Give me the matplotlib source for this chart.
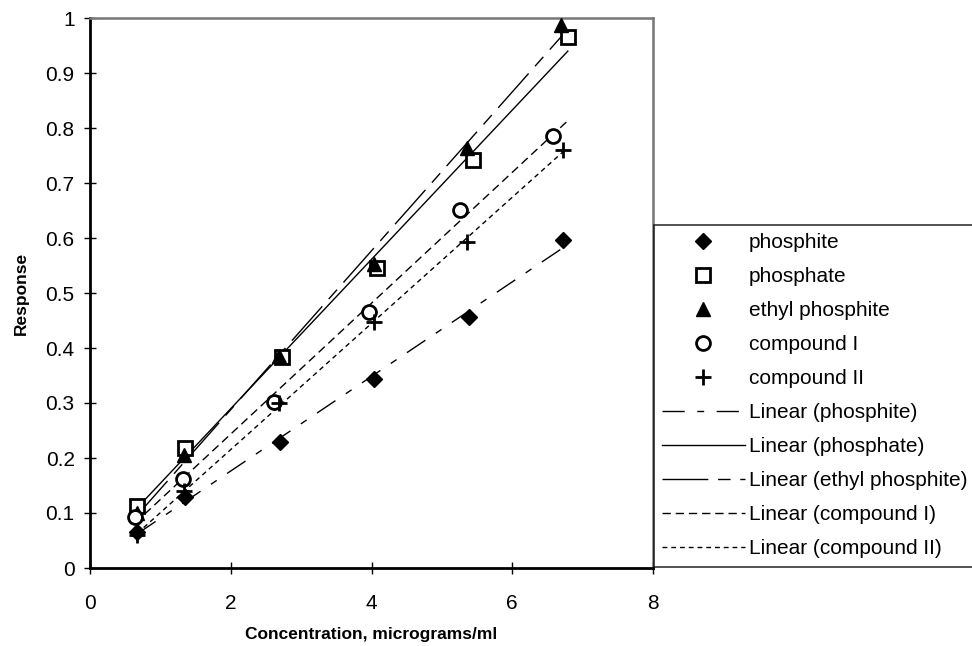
import matplotlib
matplotlib.use("Agg")
import matplotlib.pyplot as plt
import numpy as np

plt.rcParams['font.family'] = ['Liberation Sans', 'DejaVu Sans']

# Data
series_names = ['phosphite', 'phosphate', 'ethyl phosphite', 'compound I', 'compound II']

x_phosphite = [0.67, 1.35, 2.70, 4.03, 5.38, 6.72]
y_phosphite = [0.065, 0.129, 0.229, 0.344, 0.456, 0.596]

x_phosphate = [0.67, 1.35, 2.73, 4.08, 5.44, 6.79]
y_phosphate = [0.113, 0.218, 0.384, 0.545, 0.742, 0.966]

x_ethyl = [0.67, 1.34, 2.68, 4.03, 5.36, 6.69]
y_ethyl = [0.100, 0.205, 0.385, 0.553, 0.764, 0.987]

x_comp1 = [0.64, 1.32, 2.61, 3.97, 5.26, 6.58]
y_comp1 = [0.093, 0.162, 0.302, 0.465, 0.651, 0.785]

x_comp2 = [0.67, 1.34, 2.68, 4.03, 5.35, 6.72]
y_comp2 = [0.060, 0.140, 0.300, 0.447, 0.593, 0.760]

# trend line x range (Excel trendlines)
trend_lo = [0.67, 0.67, 0.67, 0.64, 0.67]
trend_hi = [6.72, 6.79, 6.72, 6.79, 6.78]

xs = [x_phosphite, x_phosphate, x_ethyl, x_comp1, x_comp2]
ys = [y_phosphite, y_phosphate, y_ethyl, y_comp1, y_comp2]

x_ticks = [0, 2, 4, 6, 8]
y_ticks = [0, 0.1, 0.2, 0.3, 0.4, 0.5, 0.6, 0.7, 0.8, 0.9, 1]
y_tick_labels = ['0', '0.1', '0.2', '0.3', '0.4', '0.5', '0.6', '0.7', '0.8', '0.9', '1']

# styles
markers = [dict(marker='D', ms=8, mfc='black', mec='black', mew=1),
           dict(marker='s', ms=10, mfc='white', mec='black', mew=2),
           dict(marker='^', ms=10, mfc='black', mec='black', mew=1),
           dict(marker='o', ms=10, mfc='white', mec='black', mew=2),
           dict(marker='+', ms=12, mfc='black', mec='black', mew=2)]
dashes = [(16, 9, 5, 9),
          None,
          (33, 7, 9, 7),
          (6, 3.5),
          (3.5, 2.8)]

fig = plt.figure(figsize=(9.72, 6.46), dpi=100)
ax = fig.add_axes([90 / 972, 78 / 646, 563 / 972, 550 / 646])

handles = []
for i in range(5):
    h, = ax.plot(xs[i], ys[i], ls='none', label=series_names[i], zorder=3, **markers[i])
    handles.append(h)

for i in range(5):
    k, b = np.polyfit(xs[i], ys[i], 1)
    xx = np.array([trend_lo[i], trend_hi[i]])
    ln, = ax.plot(xx, k * xx + b, color='black', lw=1,
                  label='Linear (' + series_names[i] + ')', zorder=2)
    if dashes[i] is not None:
        ln.set_dashes(dashes[i])
    handles.append(ln)

ax.set_xlim(0, 8)
ax.set_ylim(0, 1)
ax.set_xticks(x_ticks)
ax.set_xticklabels([str(t) for t in x_ticks])
ax.set_yticks(y_ticks)
ax.set_yticklabels(y_tick_labels)
ax.tick_params(direction='inout', length=8, width=1, labelsize=15, colors='black')
ax.tick_params(axis='x', pad=15)
ax.tick_params(axis='y', pad=7)

ax.spines['left'].set_linewidth(2)
ax.spines['bottom'].set_linewidth(2)
ax.spines['top'].set_color('#777777')
ax.spines['right'].set_color('#777777')
ax.spines['top'].set_linewidth(1.8)
ax.spines['right'].set_linewidth(1.8)

ax.set_xlabel('Concentration, micrograms/ml', fontsize=12.5, fontweight='bold', labelpad=10)
ax.set_ylabel('Response', fontsize=12.5, fontweight='bold', labelpad=12)

leg = fig.legend(handles=handles, loc='upper left', bbox_to_anchor=(654 / 972, 421 / 646),
                 fontsize=15, frameon=True, fancybox=False, borderaxespad=0,
                 handlelength=3.95, handletextpad=0.2, labelspacing=0.72,
                 borderpad=0.4)
leg.get_frame().set_edgecolor('black')
leg.get_frame().set_linewidth(1.2)

plt.savefig('out.png', dpi=100)
